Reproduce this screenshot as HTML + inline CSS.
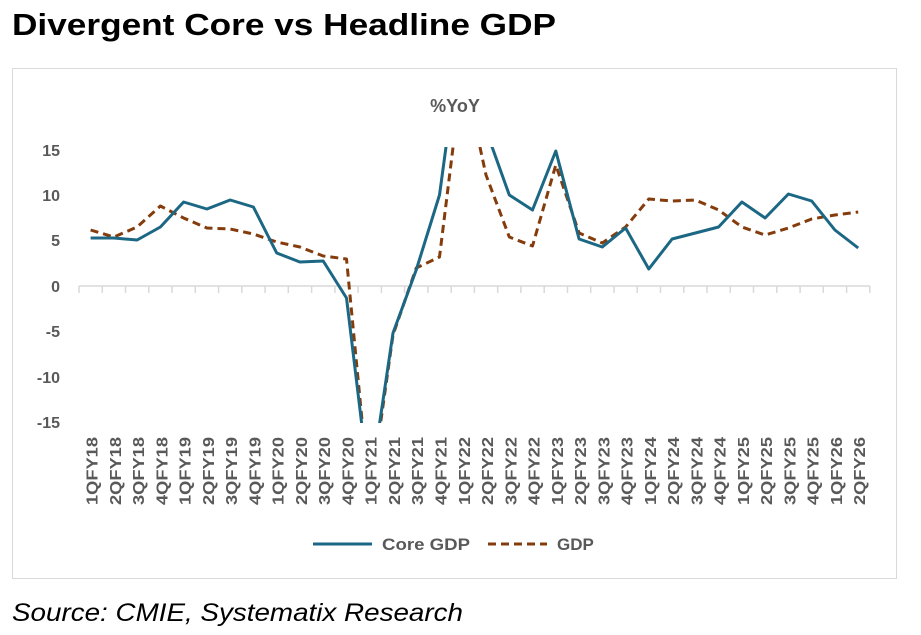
<!DOCTYPE html>
<html><head><meta charset="utf-8"><style>
body{margin:0;background:#fff;width:921px;height:635px;overflow:hidden;font-family:"Liberation Sans",sans-serif}
</style></head><body>
<svg width="921" height="635" xmlns="http://www.w3.org/2000/svg" style="position:absolute;left:0;top:0">
<text x="12" y="35" font-family="Liberation Sans, sans-serif" font-weight="bold" font-size="31" fill="#000" textLength="544" lengthAdjust="spacingAndGlyphs">Divergent Core vs Headline GDP</text>
<rect x="12.5" y="68.5" width="884" height="510" fill="#fff" stroke="#d9d9d9" stroke-width="1"/>
<text x="455" y="112" text-anchor="middle" font-weight="bold" font-size="18" fill="#595959">%YoY</text>
<g font-weight="bold" font-size="16" fill="#595959" text-anchor="end">
<text x="60" y="156">15</text><text x="60" y="201">10</text><text x="60" y="246">5</text><text x="60" y="292">0</text><text x="60" y="337">-5</text><text x="60" y="383">-10</text><text x="60" y="428">-15</text>
</g>
<g stroke="#d9d9d9" stroke-width="1.5">
<line x1="79" y1="286" x2="870" y2="286"/>
<path d="M79,286v7M102.3,286v7M125.5,286v7M148.8,286v7M172,286v7M195.3,286v7M218.6,286v7M241.8,286v7M265.1,286v7M288.3,286v7M311.6,286v7M334.9,286v7M358.1,286v7M381.4,286v7M404.6,286v7M427.9,286v7M451.2,286v7M474.4,286v7M497.7,286v7M520.9,286v7M544.2,286v7M567.5,286v7M590.7,286v7M614,286v7M637.2,286v7M660.5,286v7M683.8,286v7M707,286v7M730.3,286v7M753.5,286v7M776.8,286v7M800.1,286v7M823.3,286v7M846.6,286v7M869.8,286v7"/>
</g>
<defs><clipPath id="c"><rect x="70" y="147" width="810" height="276"/></clipPath></defs>
<g clip-path="url(#c)" fill="none" stroke-width="3" stroke-linejoin="round">
<polyline stroke="#843C0C" stroke-dasharray="8,5" points="90.6,230 113.9,237 137.1,227 160.4,206 183.6,218 206.9,228 230.2,229 253.4,234 276.7,242 299.9,247 323.2,256 346.5,259 369.7,500 393,335 416.2,268 439.5,257 462.8,68 486,175 509.3,237 532.5,246 555.8,165 579.1,233 602.3,243 625.6,227 648.8,199 672.1,201 695.4,200 718.6,210 741.9,227 765.1,235 788.4,228 811.7,219 834.9,215 858.2,212"/>
<polyline stroke="#1B6784" points="90.6,238 113.9,238 137.1,240 160.4,227 183.6,202 206.9,209 230.2,200 253.4,207 276.7,253 299.9,262 323.2,261 346.5,298 369.7,490 393,333 416.2,270 439.5,195 462.8,23 486,130 509.3,195 532.5,210 555.8,151 579.1,239 602.3,247 625.6,228 648.8,269 672.1,239 695.4,233 718.6,227 741.9,202 765.1,218 788.4,194 811.7,201 834.9,230 858.2,248"/>
</g>
<g font-weight="bold" font-size="15.5" fill="#595959" text-anchor="end">
<text transform="translate(97.6,437) rotate(-90)" textLength="68" lengthAdjust="spacingAndGlyphs">1QFY18</text>
<text transform="translate(120.9,437) rotate(-90)" textLength="68" lengthAdjust="spacingAndGlyphs">2QFY18</text>
<text transform="translate(144.1,437) rotate(-90)" textLength="68" lengthAdjust="spacingAndGlyphs">3QFY18</text>
<text transform="translate(167.4,437) rotate(-90)" textLength="68" lengthAdjust="spacingAndGlyphs">4QFY18</text>
<text transform="translate(190.6,437) rotate(-90)" textLength="68" lengthAdjust="spacingAndGlyphs">1QFY19</text>
<text transform="translate(213.9,437) rotate(-90)" textLength="68" lengthAdjust="spacingAndGlyphs">2QFY19</text>
<text transform="translate(237.2,437) rotate(-90)" textLength="68" lengthAdjust="spacingAndGlyphs">3QFY19</text>
<text transform="translate(260.4,437) rotate(-90)" textLength="68" lengthAdjust="spacingAndGlyphs">4QFY19</text>
<text transform="translate(283.7,437) rotate(-90)" textLength="68" lengthAdjust="spacingAndGlyphs">1QFY20</text>
<text transform="translate(306.9,437) rotate(-90)" textLength="68" lengthAdjust="spacingAndGlyphs">2QFY20</text>
<text transform="translate(330.2,437) rotate(-90)" textLength="68" lengthAdjust="spacingAndGlyphs">3QFY20</text>
<text transform="translate(353.5,437) rotate(-90)" textLength="68" lengthAdjust="spacingAndGlyphs">4QFY20</text>
<text transform="translate(376.7,437) rotate(-90)" textLength="68" lengthAdjust="spacingAndGlyphs">1QFY21</text>
<text transform="translate(400,437) rotate(-90)" textLength="68" lengthAdjust="spacingAndGlyphs">2QFY21</text>
<text transform="translate(423.2,437) rotate(-90)" textLength="68" lengthAdjust="spacingAndGlyphs">3QFY21</text>
<text transform="translate(446.5,437) rotate(-90)" textLength="68" lengthAdjust="spacingAndGlyphs">4QFY21</text>
<text transform="translate(469.8,437) rotate(-90)" textLength="68" lengthAdjust="spacingAndGlyphs">1QFY22</text>
<text transform="translate(493,437) rotate(-90)" textLength="68" lengthAdjust="spacingAndGlyphs">2QFY22</text>
<text transform="translate(516.3,437) rotate(-90)" textLength="68" lengthAdjust="spacingAndGlyphs">3QFY22</text>
<text transform="translate(539.5,437) rotate(-90)" textLength="68" lengthAdjust="spacingAndGlyphs">4QFY22</text>
<text transform="translate(562.8,437) rotate(-90)" textLength="68" lengthAdjust="spacingAndGlyphs">1QFY23</text>
<text transform="translate(586.1,437) rotate(-90)" textLength="68" lengthAdjust="spacingAndGlyphs">2QFY23</text>
<text transform="translate(609.3,437) rotate(-90)" textLength="68" lengthAdjust="spacingAndGlyphs">3QFY23</text>
<text transform="translate(632.6,437) rotate(-90)" textLength="68" lengthAdjust="spacingAndGlyphs">4QFY23</text>
<text transform="translate(655.8,437) rotate(-90)" textLength="68" lengthAdjust="spacingAndGlyphs">1QFY24</text>
<text transform="translate(679.1,437) rotate(-90)" textLength="68" lengthAdjust="spacingAndGlyphs">2QFY24</text>
<text transform="translate(702.4,437) rotate(-90)" textLength="68" lengthAdjust="spacingAndGlyphs">3QFY24</text>
<text transform="translate(725.6,437) rotate(-90)" textLength="68" lengthAdjust="spacingAndGlyphs">4QFY24</text>
<text transform="translate(748.9,437) rotate(-90)" textLength="68" lengthAdjust="spacingAndGlyphs">1QFY25</text>
<text transform="translate(772.1,437) rotate(-90)" textLength="68" lengthAdjust="spacingAndGlyphs">2QFY25</text>
<text transform="translate(795.4,437) rotate(-90)" textLength="68" lengthAdjust="spacingAndGlyphs">3QFY25</text>
<text transform="translate(818.7,437) rotate(-90)" textLength="68" lengthAdjust="spacingAndGlyphs">4QFY25</text>
<text transform="translate(841.9,437) rotate(-90)" textLength="68" lengthAdjust="spacingAndGlyphs">1QFY26</text>
<text transform="translate(865.2,437) rotate(-90)" textLength="68" lengthAdjust="spacingAndGlyphs">2QFY26</text>
</g>
<line x1="313" y1="544" x2="372" y2="544" stroke="#1B6784" stroke-width="3"/>
<text x="382" y="550" font-weight="bold" font-size="17" fill="#595959" textLength="88" lengthAdjust="spacingAndGlyphs">Core GDP</text>
<line x1="488" y1="544" x2="547" y2="544" stroke="#843C0C" stroke-width="3" stroke-dasharray="8,5"/>
<text x="557" y="550" font-weight="bold" font-size="17" fill="#595959">GDP</text>
<text x="12" y="621" font-style="italic" font-size="25" fill="#000" textLength="451" lengthAdjust="spacingAndGlyphs">Source: CMIE, Systematix Research</text>
</svg>
</body></html>
